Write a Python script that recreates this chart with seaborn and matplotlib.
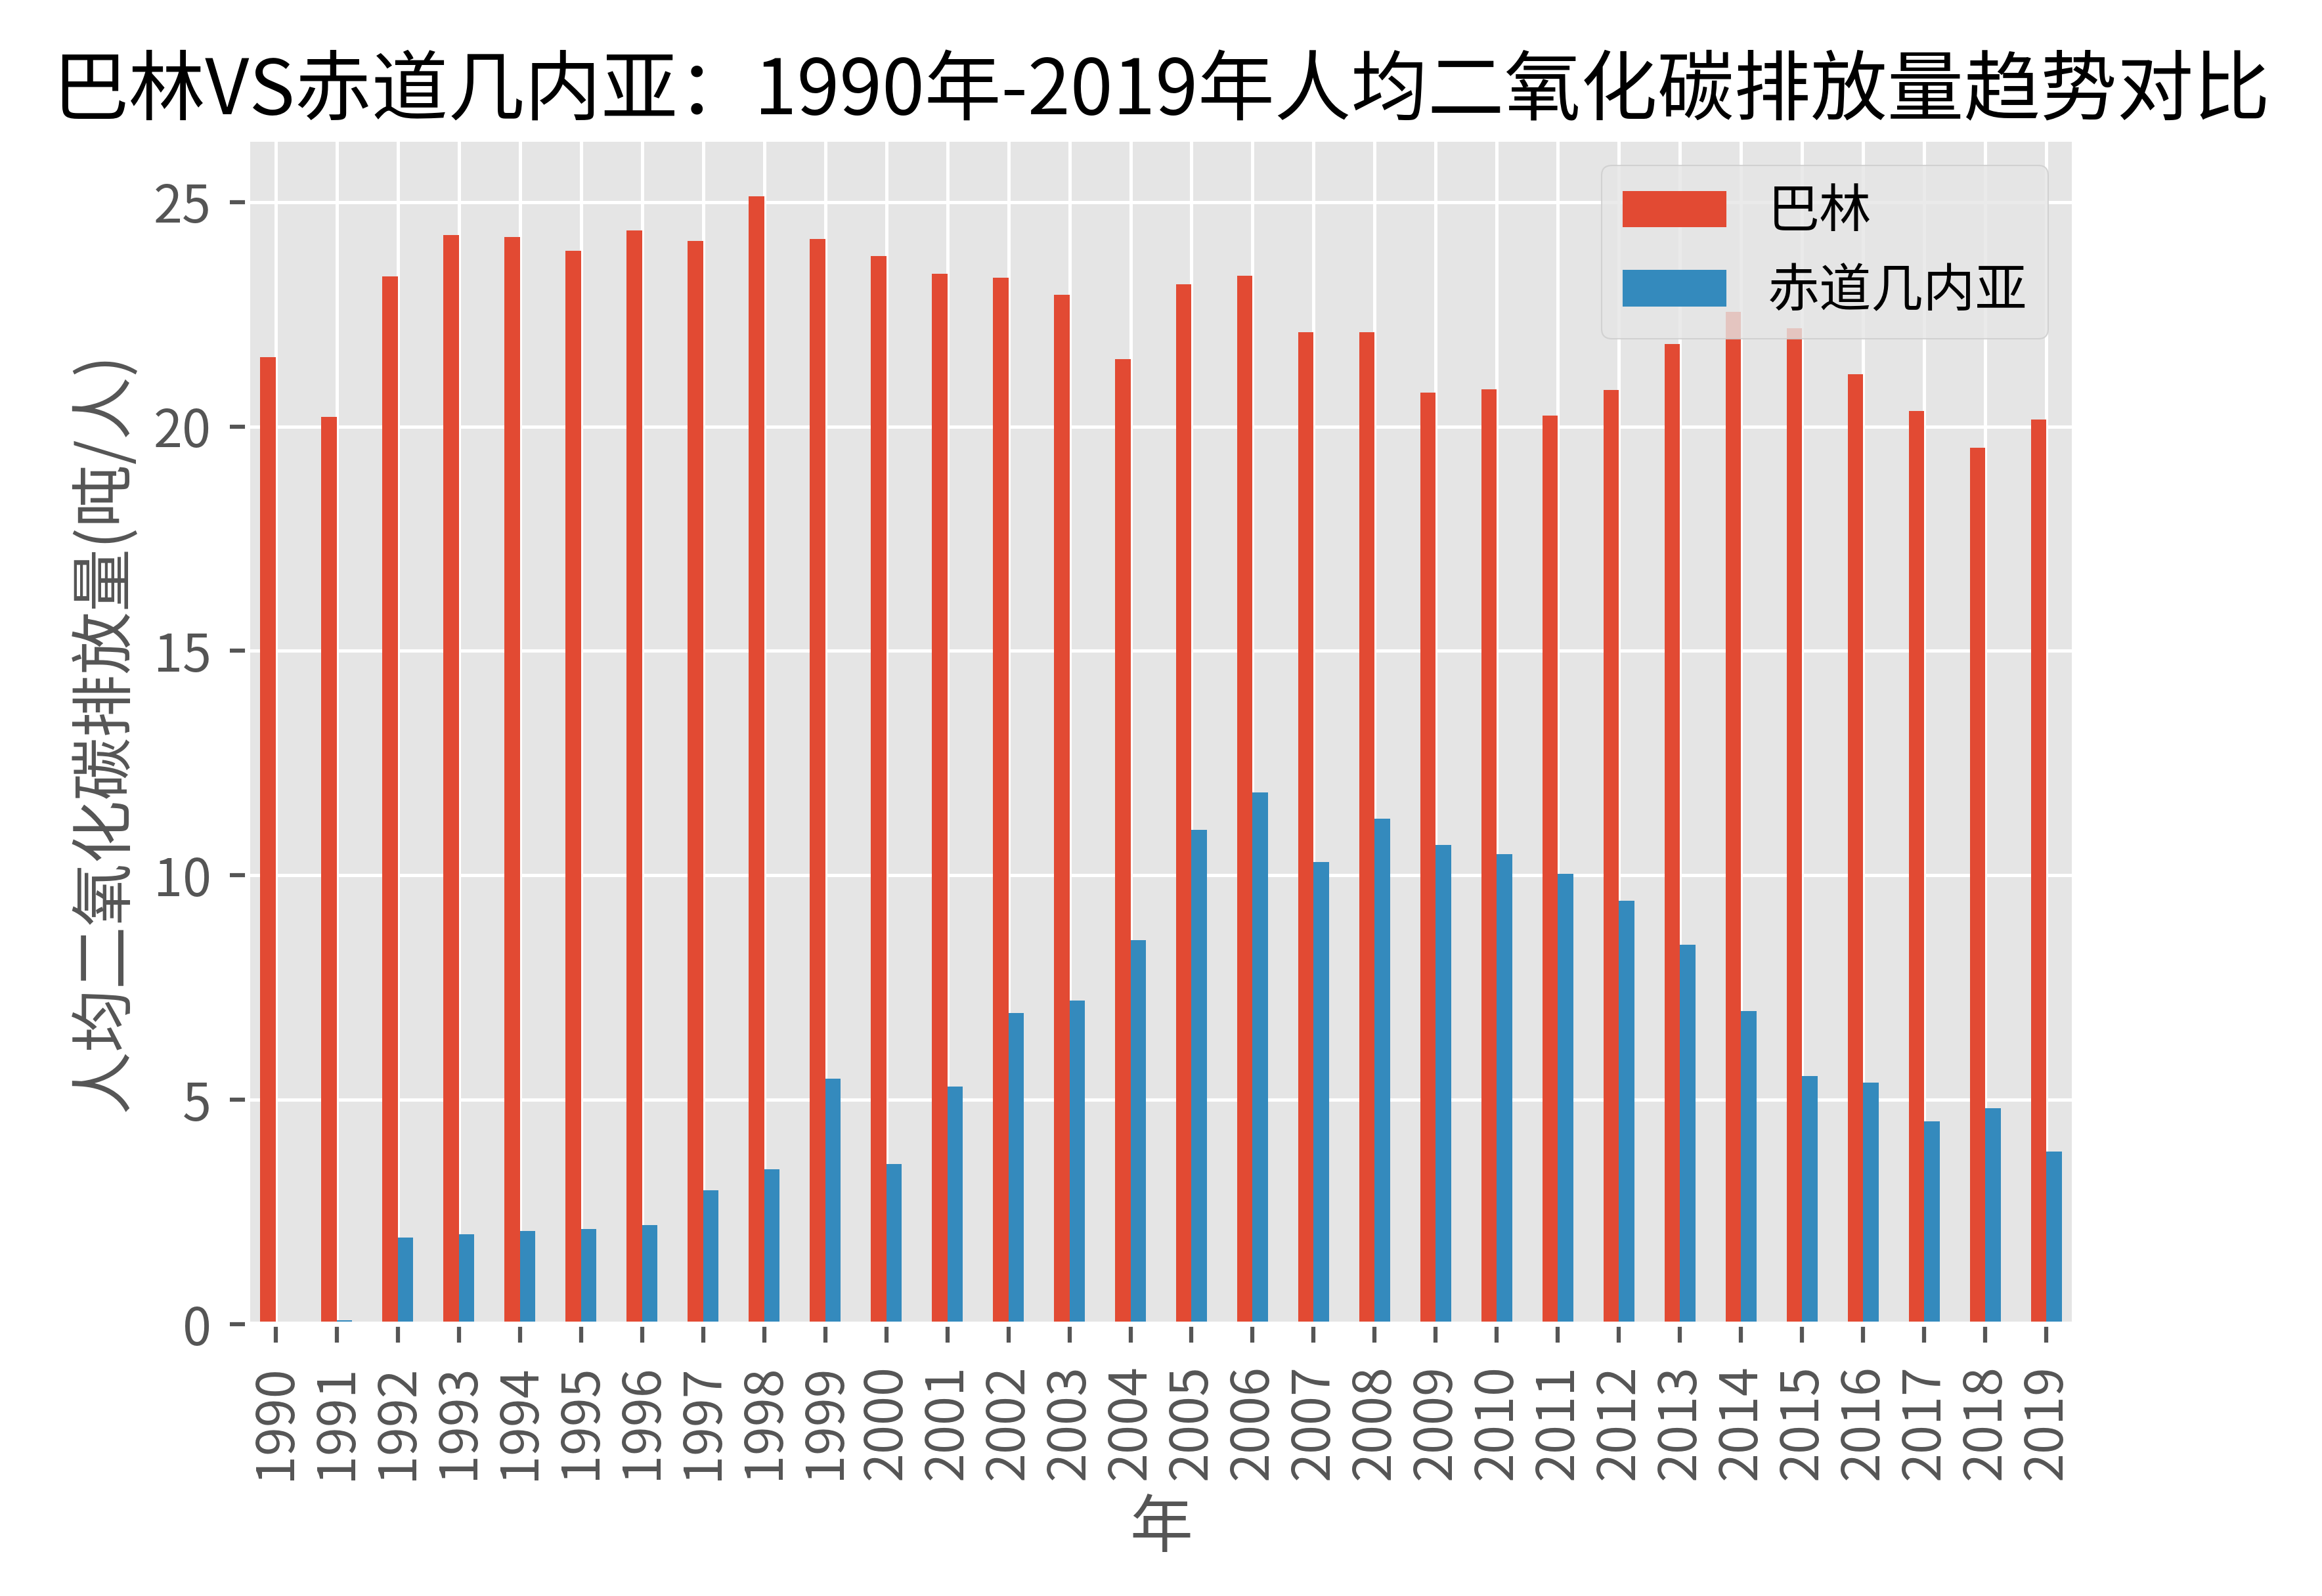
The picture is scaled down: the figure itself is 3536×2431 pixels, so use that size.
import pandas as pd
import seaborn as sns
import matplotlib.pyplot as plt

# per-capita CO2 emissions (t/person)
years = [str(y) for y in range(1990, 2020)]
bahrain = [21.55, 20.21, 23.34, 24.26, 24.22, 23.91, 24.36, 24.14, 25.12, 24.17,
           23.79, 23.40, 23.31, 22.93, 21.50, 23.17, 23.36, 22.10, 22.10, 20.76,
           20.83, 20.24, 20.81, 21.84, 22.55, 22.19, 21.16, 20.34, 19.53, 20.16]
eq_guinea = [0.05, 0.09, 1.93, 2.00, 2.07, 2.12, 2.21, 2.98, 3.45, 5.47,
             3.57, 5.29, 6.93, 7.21, 8.55, 11.02, 11.84, 10.29, 11.26, 10.67,
             10.47, 10.03, 9.43, 8.45, 6.97, 5.53, 5.38, 4.52, 4.81, 3.84]
countries = ['巴林', '赤道几内亚']
colors = ['#E24A33', '#348ABD']

df = pd.DataFrame({
    '年': years * 2,
    '国家': [countries[0]] * len(years) + [countries[1]] * len(years),
    '排放量': bahrain + eq_guinea,
})

plt.style.use('ggplot')
plt.rcParams['font.family'] = ['Noto Sans CJK SC', 'DejaVu Sans']
plt.rcParams.update({
    'font.size': 19,
    'axes.linewidth': 1.9,
    'grid.linewidth': 1.2,
    'xtick.major.size': 6.6,
    'ytick.major.size': 6.6,
    'xtick.major.width': 1.5,
    'ytick.major.width': 1.5,
    'xtick.major.pad': 8,
    'ytick.major.pad': 6.6,
})

fig = plt.figure(figsize=(3536 / 300, 2431 / 300), dpi=300)
ax = fig.add_axes([0.1066, 0.1703, 0.7868, 0.7425])

sns.barplot(data=df, x='年', y='排放量', hue='国家', hue_order=countries,
            palette=colors, saturation=1, width=0.5, errorbar=None,
            linewidth=0, ax=ax)

# seaborn switches off the grid on the categorical axis; ggplot look keeps it
ax.grid(True, axis='both', color='white')
ax.set_axisbelow(True)
ax.set_xlim(-0.46, len(years) - 1 + 0.46)
ax.set_ylim(0, 26.4)
ax.set_yticks([0, 5, 10, 15, 20, 25])
ax.tick_params(axis='x', labelrotation=90, labelsize=19, colors='#555555')
ax.tick_params(axis='y', labelsize=19, colors='#555555')

ax.set_xlabel('年', fontsize=23, color='#555555', labelpad=6)
ax.set_ylabel('人均二氧化碳排放量(吨/人)', fontsize=23, color='#555555', labelpad=6)
ax.set_title('巴林VS赤道几内亚：1990年-2019年人均二氧化碳排放量趋势对比',
             fontsize=28, color='black', pad=9)

handles, labels = ax.get_legend_handles_labels()
leg = ax.legend(handles, labels, loc='upper right', fontsize=19, title=None,
                framealpha=0.8)
for t in leg.get_texts():
    t.set_color('black')

fig.savefig('out.png', dpi=300)
